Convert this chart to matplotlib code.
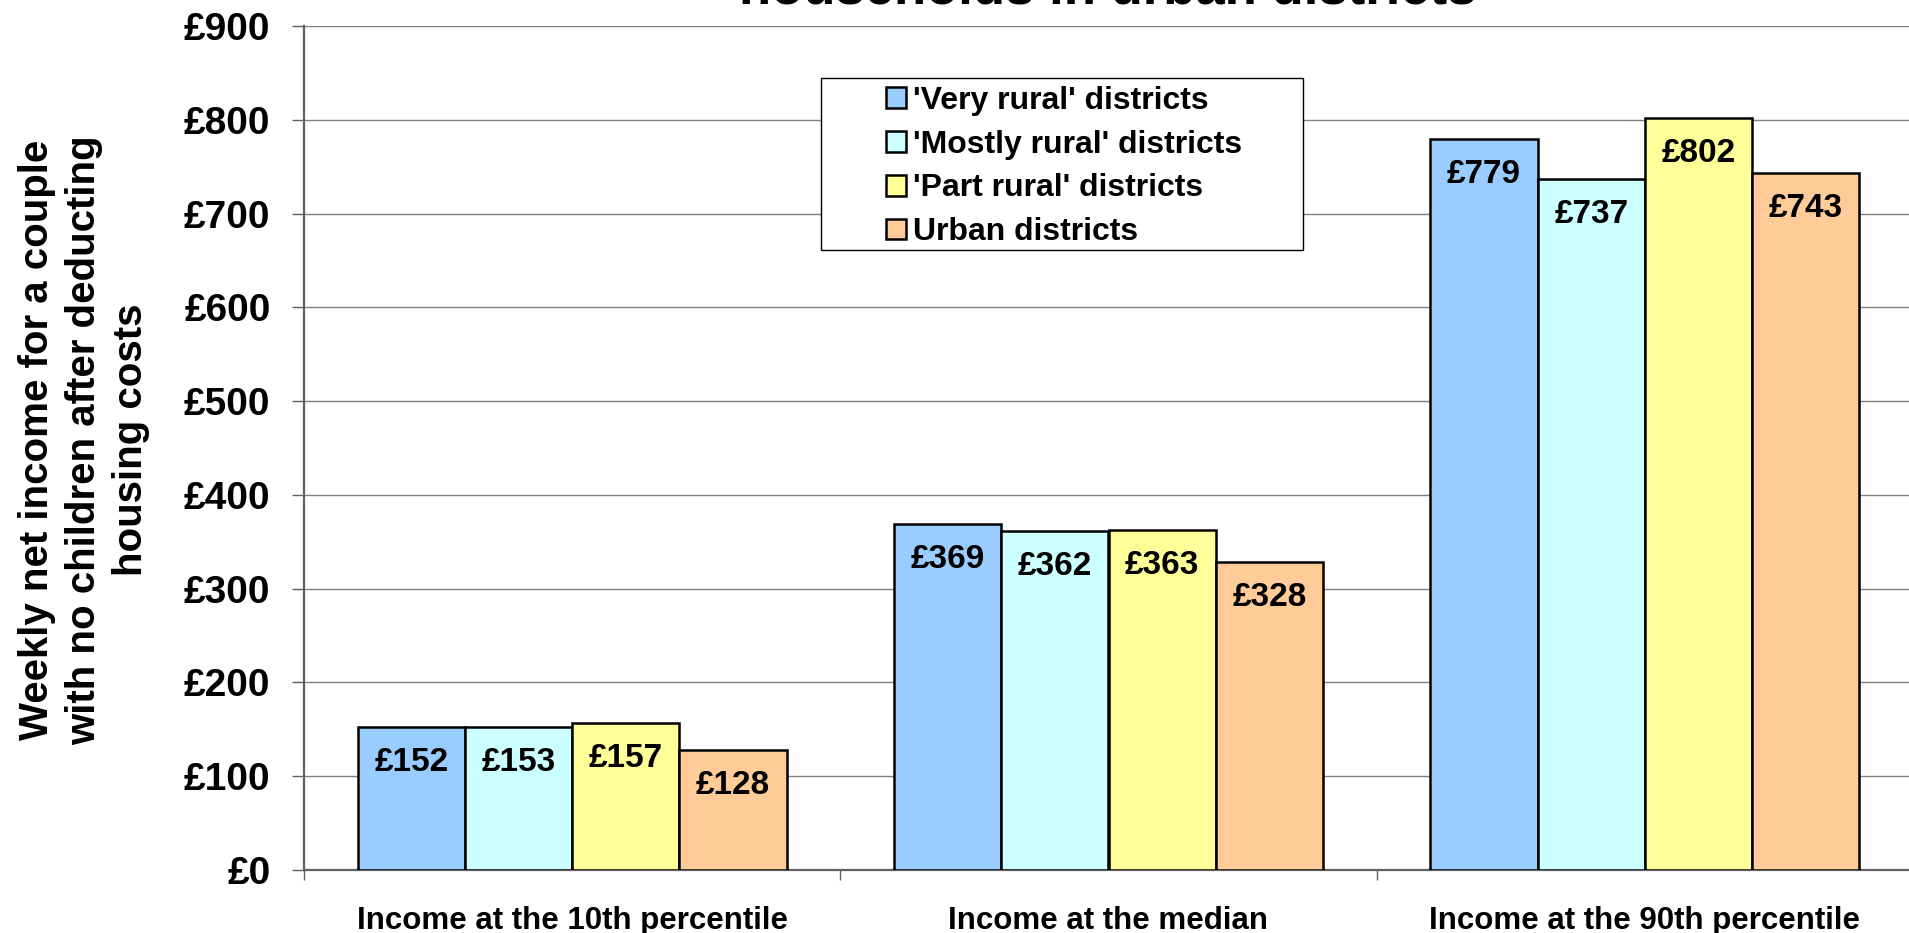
import matplotlib
matplotlib.use("Agg")
import matplotlib.pyplot as plt
from matplotlib.patches import Rectangle
import numpy as np

plt.rcParams['font.family'] = ['Liberation Sans', 'DejaVu Sans']
plt.rcParams['font.weight'] = 'bold'

categories = ["Income at the 10th percentile", "Income at the median", "Income at the 90th percentile"]
series_names = ["'Very rural' districts", "'Mostly rural' districts", "'Part rural' districts", "Urban districts"]
very_rural = [152, 369, 779]
mostly_rural = [153, 362, 737]
part_rural = [157, 363, 802]
urban = [128, 328, 743]
series_values = [very_rural, mostly_rural, part_rural, urban]
colors = ["#99CCFF", "#CCFFFF", "#FFFF99", "#FFCC99"]
y_ticks = [0, 100, 200, 300, 400, 500, 600, 700, 800, 900]
y_tick_labels = ["£" + str(v) for v in y_ticks]
title_text = "households in urban districts"
y_label = "Weekly net income for a couple\nwith no children after deducting\nhousing costs"

W, H = 1909, 933
fig = plt.figure(figsize=(W / 100, H / 100), dpi=100)
ax = fig.add_axes([304 / W, (H - 870) / H, (1913 - 304) / W, (870 - 26) / H])

x = np.arange(len(categories))
bw = 0.2
offsets = [-0.3, -0.1, 0.1, 0.3]
for vals, name, col, off in zip(series_values, series_names, colors, offsets):
    bars = ax.bar(x + off, vals, width=bw, color=col, edgecolor='black',
                  linewidth=1.8, label=name, zorder=3)
    for rect, v in zip(bars, vals):
        ax.annotate("£%d" % v, xy=(rect.get_x() + rect.get_width() / 2, v),
                    xytext=(0, -44 * 0.72), textcoords='offset points',
                    ha='center', va='baseline', fontsize=24,
                    fontweight='bold', zorder=4)

ax.set_xlim(-0.5, 2.5)
ax.set_ylim(0, 900)
ax.set_yticks(y_ticks)
ax.set_yticklabels(y_tick_labels, fontsize=28, fontweight='bold')
ax.tick_params(axis='y', direction='out', length=8.6, width=1.0, color='#606060', pad=15.5)

ax.set_xticks([-0.5, 0.5, 1.5, 2.5])
ax.set_xticklabels([])
ax.set_xticks(x, minor=True)
ax.set_xticklabels(categories, minor=True, fontsize=22.5, fontweight='bold')
ax.tick_params(axis='x', which='major', direction='out', length=7.2, width=1.0, color='#606060')
ax.tick_params(axis='x', which='minor', length=0, pad=26)

ax.yaxis.grid(True, color='#808080', linewidth=1.0, zorder=0)
ax.set_axisbelow(True)
for s in ['top', 'right']:
    ax.spines[s].set_visible(False)
for s in ['left', 'bottom']:
    ax.spines[s].set_color('#606060')
    ax.spines[s].set_linewidth(1.6)

# y label
fig.text(84 / W, 1 - 440 / H, y_label, rotation=90, ha='center', va='center',
         fontsize=29, fontweight='bold', multialignment='center', linespacing=1.3)

# title (cut off at top as in reference)
fig.text(1108 / W, 1 - 3 / H, title_text, ha='center', va='baseline',
         fontsize=38, fontweight='bold')

# legend
frame = Rectangle((820.7 / W, 1 - 250 / H), (1303 - 820.7) / W, (250 - 78.3) / H,
                  transform=fig.transFigure, facecolor='white', edgecolor='black',
                  linewidth=1.0, zorder=5)
fig.patches.append(frame)
leg = fig.legend(loc='upper left', bbox_to_anchor=(886 / W, 1 - 86 / H),
                 frameon=False, prop={'weight': 'bold', 'size': 23},
                 handlelength=0.63, handleheight=0.63, handletextpad=0.22,
                 labelspacing=0.43, borderpad=0, borderaxespad=0)
leg.set_zorder(6)

fig.savefig("out.png", dpi=100)
